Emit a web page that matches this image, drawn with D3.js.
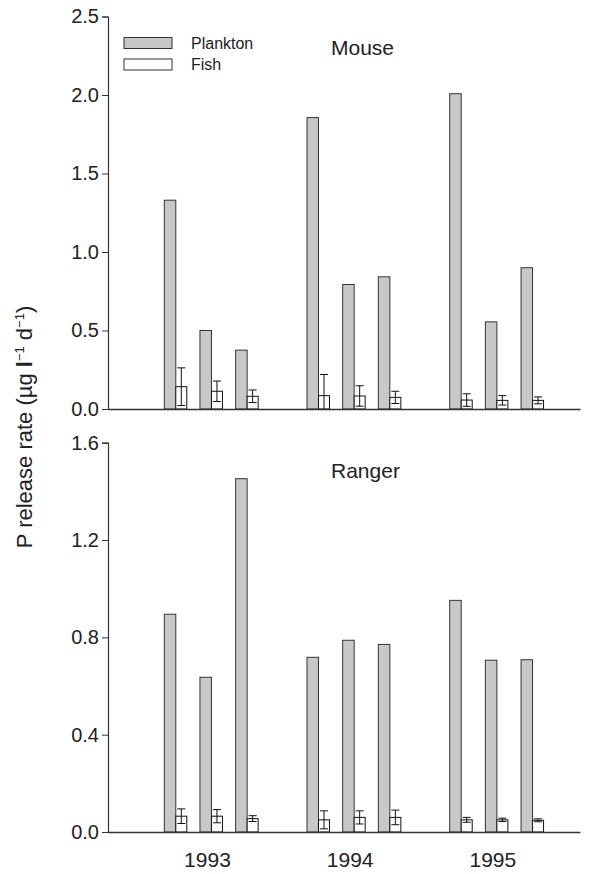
<!DOCTYPE html>
<html>
<head>
<meta charset="utf-8">
<script src="https://cdn.jsdelivr.net/npm/d3@7"></script>
<style>
  body { margin: 0; background: #fff; }
  svg text { font-family: "Liberation Sans", Arial, sans-serif; fill: #222; }
</style>
</head>
<body>
<script>
// data
var years = ["1993", "1994", "1995"];
var lakes = ["Mouse", "Ranger"];

var mousePlankton = [1.33, 0.50, 0.375, 1.856, 0.793, 0.842, 2.008, 0.555, 0.90];
var mouseFish     = [0.142, 0.113, 0.081, 0.085, 0.083, 0.074, 0.057, 0.055, 0.055];
var mouseFishErr  = [0.12, 0.065, 0.04, 0.135, 0.065, 0.039, 0.04, 0.03, 0.022];

var rangerPlankton = [0.895, 0.636, 1.452, 0.718, 0.788, 0.771, 0.952, 0.706, 0.708];
var rangerFish     = [0.065, 0.065, 0.055, 0.05, 0.06, 0.06, 0.05, 0.05, 0.048];
var rangerFishErr  = [0.03, 0.027, 0.012, 0.037, 0.027, 0.03, 0.01, 0.007, 0.006];

var mouseTicks  = [0, 0.5, 1.0, 1.5, 2.0, 2.5];
var rangerTicks = [0, 0.4, 0.8, 1.2, 1.6];

var W = 598, H = 874;
var svg = d3.select("body").append("svg").attr("width", W).attr("height", H);

// slot index: year*4 + sample, a gap of one slot between years
var x = d3.scaleLinear().domain([-1.9, 11.33]).range([108, 580]);
var PW = 11.5, FW = 11, CAP = 4;

function slot(i) { return Math.floor(i / 3) * 4 + (i % 3); }

function panel(name, plankton, fish, err, ticks, top, bottom, labelY) {
  var y = d3.scaleLinear().domain([0, ticks[ticks.length - 1]]).range([bottom, top]);
  var g = svg.append("g");

  var rows = plankton.map(function(p, i) {
    return { k: slot(i), p: p, f: fish[i], e: err[i] };
  });

  // plankton bars
  g.selectAll("rect.pl").data(rows).enter().append("rect")
    .attr("class", "pl")
    .attr("x", function(d) { return x(d.k) - PW; })
    .attr("y", function(d) { return y(d.p); })
    .attr("width", PW)
    .attr("height", function(d) { return y(0) - y(d.p); })
    .attr("fill", "#c8c8c8")
    .attr("stroke", "#333")
    .attr("stroke-width", 1);

  // fish bars
  g.selectAll("rect.fi").data(rows).enter().append("rect")
    .attr("class", "fi")
    .attr("x", function(d) { return x(d.k); })
    .attr("y", function(d) { return y(d.f); })
    .attr("width", FW)
    .attr("height", function(d) { return y(0) - y(d.f); })
    .attr("fill", "#fff")
    .attr("stroke", "#111")
    .attr("stroke-width", 1);

  // error bars on fish
  var eb = g.selectAll("g.err").data(rows).enter().append("g").attr("class", "err")
    .attr("stroke", "#111").attr("stroke-width", 1);
  eb.append("line")
    .attr("x1", function(d) { return x(d.k) + FW / 2; })
    .attr("x2", function(d) { return x(d.k) + FW / 2; })
    .attr("y1", function(d) { return y(Math.max(0, d.f - d.e)); })
    .attr("y2", function(d) { return y(d.f + d.e); });
  eb.append("line")
    .attr("x1", function(d) { return x(d.k) + FW / 2 - CAP; })
    .attr("x2", function(d) { return x(d.k) + FW / 2 + CAP; })
    .attr("y1", function(d) { return y(d.f + d.e); })
    .attr("y2", function(d) { return y(d.f + d.e); });
  eb.filter(function(d) { return d.f - d.e > 0; }).append("line")
    .attr("x1", function(d) { return x(d.k) + FW / 2 - CAP; })
    .attr("x2", function(d) { return x(d.k) + FW / 2 + CAP; })
    .attr("y1", function(d) { return y(d.f - d.e); })
    .attr("y2", function(d) { return y(d.f - d.e); });

  // axes
  var yAxis = d3.axisLeft(y).tickValues(ticks).tickFormat(d3.format(".1f")).tickSize(6).tickPadding(3);
  var ya = g.append("g").attr("transform", "translate(108,0)").call(yAxis);
  ya.select(".domain").attr("stroke", "#333").attr("stroke-width", 1.2);
  ya.selectAll(".tick line").attr("stroke", "#333");
  ya.selectAll(".tick text").style("font-size", "20px").attr("fill", "#222").style("font-family", "Liberation Sans, Arial, sans-serif");

  var xAxis = d3.axisBottom(x).tickValues([]).tickSizeOuter(0);
  var xa = g.append("g").attr("transform", "translate(0," + bottom + ")").call(xAxis);
  xa.select(".domain").attr("stroke", "#333").attr("stroke-width", 1.6);

  g.append("text").attr("x", 331).attr("y", labelY)
    .style("font-size", "21px").text(name);

  return y;
}

panel(lakes[0], mousePlankton, mouseFish, mouseFishErr, mouseTicks, 16.5, 409, 55);
panel(lakes[1], rangerPlankton, rangerFish, rangerFishErr, rangerTicks, 442.7, 832, 478);

// year labels
svg.selectAll("text.year").data(years).enter().append("text")
  .attr("class", "year")
  .attr("x", function(d, i) { return x(i * 4 + 1) - 4; })
  .attr("y", 867)
  .attr("text-anchor", "middle")
  .style("font-size", "21px")
  .text(function(d) { return d; });

// legend
var legend = [{ name: "Plankton", fill: "#c8c8c8" }, { name: "Fish", fill: "#fff" }];
var lg = svg.selectAll("g.leg").data(legend).enter().append("g").attr("class", "leg")
  .attr("transform", function(d, i) { return "translate(124," + (37.5 + i * 21.5) + ")"; });
lg.append("rect").attr("width", 48).attr("height", 11)
  .attr("fill", function(d) { return d.fill; }).attr("stroke", "#333").attr("stroke-width", 1);
lg.append("text").attr("x", 67).attr("y", 11).style("font-size", "16px")
  .text(function(d) { return d.name; });

// y axis title
var yt = svg.append("text").attr("transform", "translate(32,427) rotate(-90)")
  .attr("text-anchor", "middle").style("font-size", "22px");
yt.append("tspan").text("P release rate (\u00b5g ");
yt.append("tspan").style("font-weight", "bold").text("l");
yt.append("tspan").attr("dy", -8).style("font-size", "13px").text("\u22121");
yt.append("tspan").attr("dy", 8).text(" d");
yt.append("tspan").attr("dy", -8).style("font-size", "13px").text("\u22121");
yt.append("tspan").attr("dy", 8).text(")");
</script>
</body>
</html>
